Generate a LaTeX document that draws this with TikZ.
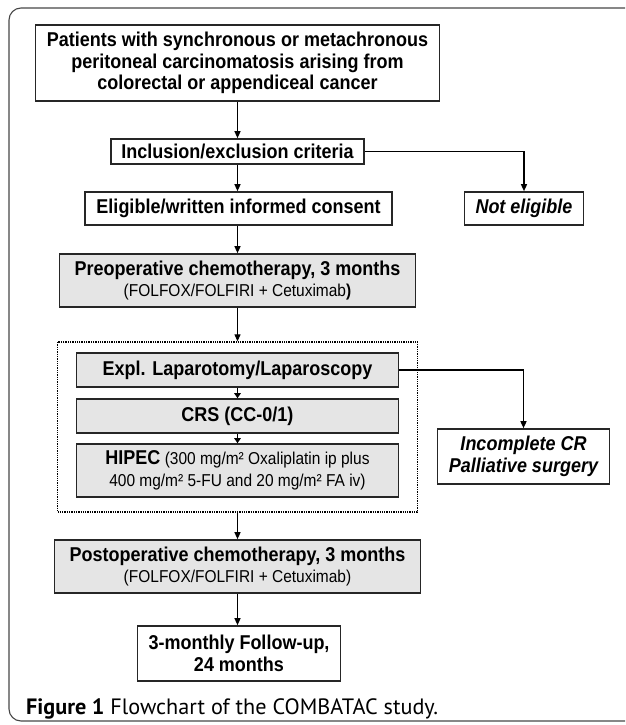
\documentclass[tikz,border=0pt]{standalone}
\usepackage{fontspec}
\setmainfont{Liberation Sans}[FakeStretch=0.9]
\newfontfamily\capfont{PT Sans}
\usetikzlibrary{arrows.meta}
\definecolor{boxgrey}{RGB}{229,229,229}
\definecolor{framegrey}{RGB}{70,70,70}
\begin{document}
\begin{tikzpicture}[x=1pt,y=-1pt,
  box/.style={draw=black!85, line width=1.6pt, align=center, inner sep=0pt,
    font=\fontsize{20}{21.7}\selectfont\bfseries},
  gbox/.style={box, fill=boxgrey},
  arr/.style={line width=1.1pt, -{Triangle[length=7pt,width=6pt]}},
  sarr/.style={line width=1.1pt, -{Triangle[length=5pt,width=6.5pt]}},
  conn/.style={line width=1.4pt, -{Triangle[length=7pt,width=6pt]}}]
\useasboundingbox (0,0) rectangle (625,725);
\begin{scope}
  \clip (0,0) rectangle (625,725);
  \draw[line width=1.1pt, framegrey, rounded corners=12pt] (9,8) rectangle (680,721);
\end{scope}

\node[box, minimum width=404pt, minimum height=76pt] (pat) at (237.5,63)
  {Patients with synchronous or metachronous\\peritoneal carcinomatosis arising from\\colorectal or appendiceal cancer};
\node[box, minimum width=253pt, minimum height=25pt] (incl) at (237.5,151.5)
  {Inclusion/exclusion criteria};
\node[box, minimum width=307pt, minimum height=33pt] (elig) at (238.5,208.5)
  {Eligible/written informed consent};
\node[box, minimum width=119pt, minimum height=33pt] (notel) at (524,208.5)
  {\itshape Not eligible};
\node[gbox, minimum width=356pt, minimum height=53pt] (preop) at (237.5,280.5)
  {Preoperative chemotherapy, 3 months\\[-1pt]
   {\mdseries\fontsize{17.2}{18}\selectfont (FOLFOX/FOLFIRI + Cetuximab\textbf{)}}};
\node[draw, densely dotted, line width=1.3pt, minimum width=360pt, minimum height=170pt, inner sep=0pt] (grp) at (237.5,427) {};
\node[gbox, minimum width=322pt, minimum height=34pt] (expl) at (237.5,370)
  {Expl. Laparotomy/Laparoscopy};
\node[gbox, minimum width=322pt, minimum height=34pt] (crs) at (237.5,416)
  {CRS (CC-0/1)};
\node[gbox, minimum width=322pt, minimum height=53pt, font=\fontsize{17.2}{22}\selectfont] (hipec) at (237.5,470.5)
  {{\fontsize{20}{22}\selectfont\bfseries HIPEC} (300 mg/m² Oxaliplatin ip plus\\
   400 mg/m² 5-FU and 20 mg/m² FA iv)};
\node[box, minimum width=172pt, minimum height=55pt] (incomp) at (523.5,456.5)
  {\itshape Incomplete CR\\\itshape Palliative surgery};
\node[gbox, minimum width=366pt, minimum height=53pt] (postop) at (237.5,566.5)
  {Postoperative chemotherapy, 3 months\\[-1pt]
   {\mdseries\fontsize{17.2}{18}\selectfont (FOLFOX/FOLFIRI + Cetuximab)}};
\node[box, minimum width=203pt, minimum height=55pt] (follow) at (239,653.5)
  {3-monthly Follow-up,\\24 months};

\node[anchor=base west, inner sep=0pt, font=\capfont\fontsize{22.2}{24}\selectfont] (cap) at (26,714)
  {\textbf{Figure 1} Flowchart of the COMBATAC study.};

\draw[arr] (pat.south -| preop.center) -- (incl.north -| preop.center);
\draw[arr] (incl.south -| preop.center) -- (elig.north -| preop.center);
\draw[arr] (elig.south -| preop.center) -- (preop.north);
\draw[arr] (preop.south) -- (grp.north -| preop.center);
\draw[sarr] (expl.south) -- (crs.north);
\draw[sarr] (crs.south) -- (hipec.north);
\draw[arr] (grp.south) -- (postop.north);
\draw[arr] (postop.south) -- (follow.north -| postop.center);
\draw[conn] (incl.east) -| (notel.north);
\draw[conn] (expl.east) -| (incomp.north);
\end{tikzpicture}
\end{document}
